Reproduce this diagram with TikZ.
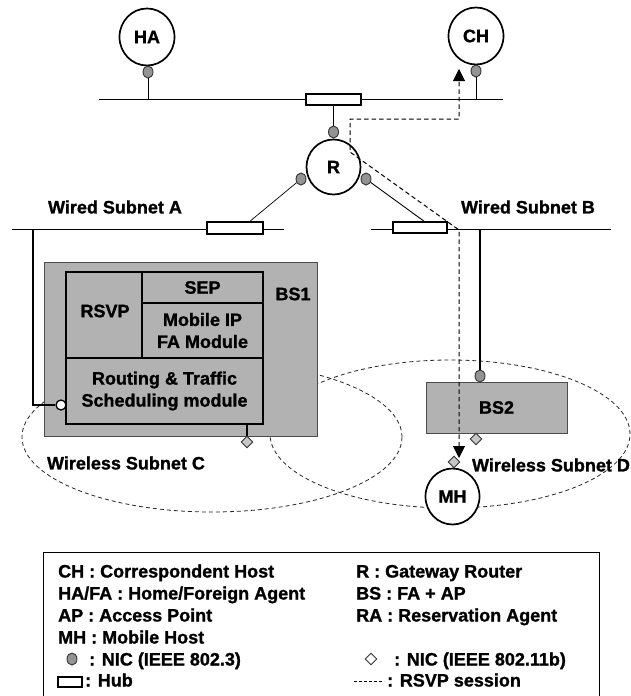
\documentclass[tikz,border=0pt]{standalone}
\usepackage{fontspec}
\setmainfont{Liberation Sans}[BoldFeatures={FakeBold=1.2}]
\usetikzlibrary{shapes.geometric,arrows.meta}
\begin{document}
\begin{tikzpicture}[x=1pt,y=-1pt,
  every node/.style={font=\fontsize{18}{22}\selectfont\bfseries, inner sep=0pt},
  host/.style={ellipse, draw, line width=1.7pt, fill=white, minimum width=55pt, minimum height=57pt},
  nic/.style={ellipse, draw=black!80, fill=black!42, line width=0.9pt, minimum width=10pt, minimum height=12pt},
  opennic/.style={circle, draw, fill=white, line width=1.3pt, minimum size=10pt},
  wnic/.style={diamond, draw=black!80, fill=black!22, line width=0.9pt, minimum width=12pt, minimum height=12pt},
  hub/.style={rectangle, draw, line width=1.6pt, fill=white, minimum width=55pt, minimum height=11pt},
  wire/.style={line width=0.9pt},
  drop/.style={line width=1.9pt},
  rsvp/.style={dash pattern=on 4.5pt off 3pt, line width=1pt, >={Triangle[length=12pt,width=12pt]}},
  subnet/.style={ellipse, draw=black!85, dash pattern=on 4pt off 3pt, line width=0.8pt},
  bsbox/.style={rectangle, draw=black!70, fill=black!30, line width=0.9pt},
  cell/.style={rectangle, draw, line width=1.9pt, align=center},
  legtext/.style={anchor=base west}
]
\useasboundingbox (0,0) rectangle (631,696);

% wireless coverage areas
\node[subnet, minimum width=380pt, minimum height=150pt] (wsc) at (212,437) {};
\node[subnet, minimum width=360pt, minimum height=148pt] (wsd) at (450,434) {};

% backbone segment
\coordinate (topL) at (99,99);
\coordinate (topR) at (503,99);
\draw[wire] (topL) -- (topR);
\node[host] (ha) at (147,37) {HA};
\node[host] (ch) at (476,36) {CH};
\node[nic] (hanic) at (148,72) {};
\node[nic] (chnic) at (476,71) {};
\draw[wire] (hanic) -- (hanic |- topL);
\draw[wire] (chnic) -- (chnic |- topL);
\node[hub] (tophub) at (333.5,99.5) {};

% gateway router
\node[host, minimum width=54pt, minimum height=55pt] (r) at (333.5,167) {R};
\node[nic] (rtop) at (333.5,132) {};
\node[nic] (rleft) at (301,179) {};
\node[nic] (rright) at (366,179) {};
\draw[wire] (tophub) -- (rtop);

% wired subnets
\coordinate (aL) at (12,229);
\coordinate (aR) at (284,229);
\coordinate (bL) at (371,229);
\coordinate (bR) at (611,229);
\draw[wire] (aL) -- (aR);
\draw[wire] (bL) -- (bR);
\node[hub, minimum width=56pt, minimum height=12pt] (huba) at (235,228) {};
\node[hub, minimum width=54pt] (hubb) at (420,227.5) {};
\draw[line width=0.7pt] (rleft) -- ([xshift=15pt]huba.north);
\draw[wire] (rright) -- ([xshift=4pt]hubb.north);
\node (wla) at (115,207) {Wired Subnet A};
\node (wlb) at (528,207) {Wired Subnet B};

% base station 1
\node[bsbox, minimum width=273pt, minimum height=174pt] (bs1) at (180.5,349) {};
\node[cell, minimum width=76pt, minimum height=86pt] (rsvpc) at (104,315) {};
\node at (105,311) {RSVP};
\node[cell, minimum width=121pt, minimum height=31pt] (sepc) at (202.5,287.5) {SEP};
\node[cell, minimum width=121pt, minimum height=55pt] (mipc) at (202.5,330.5) {Mobile IP\\FA Module};
\node[cell, minimum width=197pt, minimum height=66pt] (rtc) at (164.5,391) {Routing \& Traffic\\Scheduling module};
\node (bs1l) at (293,294) {BS1};
\node[opennic] (bs1nic) at (61,405) {};
\coordinate (adrop) at (33,229);
\draw[drop] (bs1nic) -| (adrop);
\node[wnic] (bs1w) at (247,442) {};
\draw[drop] (rtc.south -| bs1w) -- (bs1w);
\node (wlc) at (126,463) {Wireless Subnet C};

% base station 2
\node[bsbox, minimum width=141pt, minimum height=51pt] (bs2) at (496.5,407.5) {BS2};
\node[nic] (bs2nic) at (480,376) {};
\coordinate (bdrop) at (480,229);
\draw[drop] (bdrop) -- (bs2nic);
\node[wnic] (bs2w) at (476,439) {};
\node (wld) at (551,465) {Wireless Subnet D};

% mobile host
\node[host, minimum width=54pt, minimum height=56pt] (mh) at (452.5,496.5) {MH};
\node[wnic] (mhw) at (454,462) {};

% RSVP session path
\coordinate (mhtip) at (459,458);
\coordinate (rs1) at (459,230);
\coordinate (rs2) at (350,152);
\coordinate (rs3) at (350,119);
\coordinate (rs4) at (459,119);
\coordinate (chtip) at (459,69);
\draw[rsvp, <->] (mhtip) -- (rs1) -- (rs2) -- (rs3) -- (rs4) -- (chtip);

% legend
\node[draw, line width=1pt, minimum width=556pt, minimum height=150pt, anchor=north west] (legend) at (43,552) {};
\node[legtext] (l1) at (58,577.5) {CH : Correspondent Host};
\node[legtext] (l2) at (58,599.5) {HA/FA : Home/Foreign Agent};
\node[legtext] (l3) at (58,621.5) {AP : Access Point};
\node[legtext] (l4) at (58,643.5) {MH : Mobile Host};
\node[nic] (lnic) at (72,659) {};
\node[legtext] (l5) at (89,665.5) {: NIC (IEEE 802.3)};
\node[rectangle, draw, line width=1.3pt, minimum width=24pt, minimum height=10pt] (lhub) at (70,682) {};
\node[legtext] (l6) at (85,686.5) {: Hub};
\node[legtext] (r1) at (356,577.5) {R : Gateway Router};
\node[legtext] (r2) at (356,599.5) {BS : FA + AP};
\node[legtext] (r3) at (356,621.5) {RA : Reservation Agent};
\node[wnic, fill=white] (lw) at (371,659) {};
\node[legtext] (r5) at (394,665.5) {: NIC (IEEE 802.11b)};
\coordinate (ld1) at (354,681);
\coordinate (ld2) at (384,681);
\draw[dash pattern=on 3pt off 2pt, line width=0.8pt] (ld1) -- (ld2);
\node[legtext] (r6) at (387,686.5) {: RSVP session};
\end{tikzpicture}
\end{document}
